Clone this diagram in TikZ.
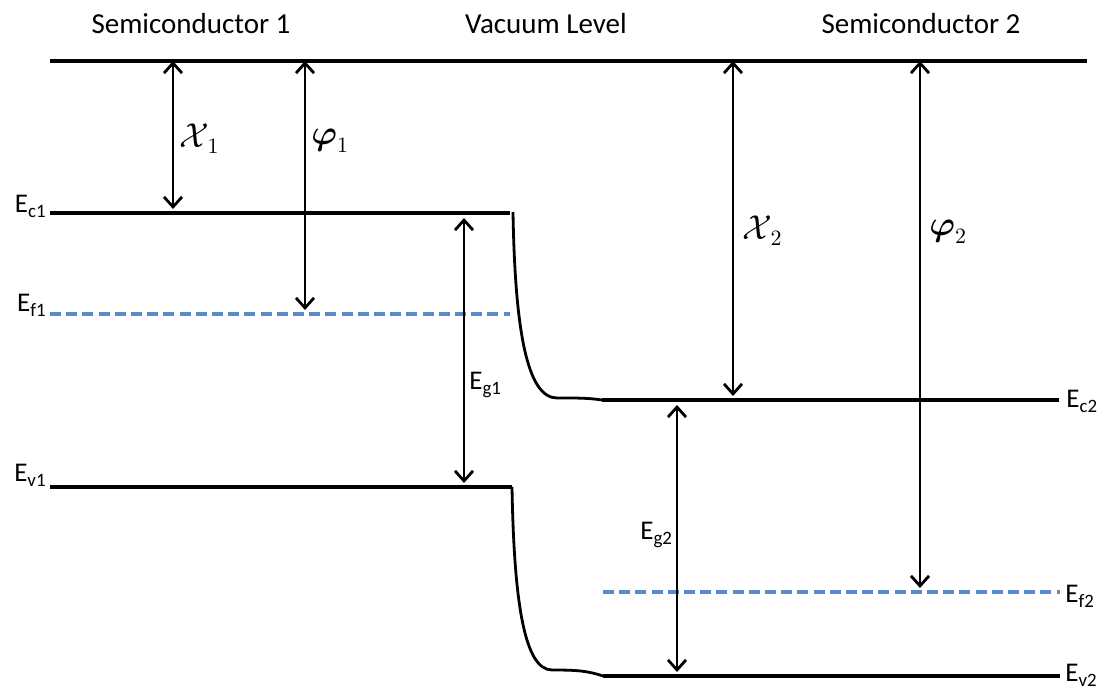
\documentclass[tikz,border=0pt]{standalone}
\usepackage{amsmath, amssymb}
\usepackage{fontspec}
\setmainfont{Carlito}
\usetikzlibrary{arrows.meta}
\definecolor{fermiblue}{RGB}{88,138,204}

\begin{document}
\begin{tikzpicture}[x=0.5pt, y=-0.5pt,
                level/.style={black, line width=1.7pt},
                bandbend/.style={black, line width=1.4pt},
                fermi/.style={fermiblue, line width=1.7pt, dash pattern=on 5.5pt off 2.6pt},
                gap/.style={black, line width=1.4pt, {Straight Barb[length=5pt, width=9pt, line width=1.4pt]}-{Straight Barb[length=5pt, width=9pt, line width=1.4pt]}},
                title/.style={font=\fontsize{14.5}{17}\selectfont, inner sep=0pt},
                tag/.style={font=\fontsize{13.5}{16}\selectfont, inner sep=0pt},
                sym/.style={font=\fontsize{16}{19}\selectfont, inner sep=0pt}]
                \useasboundingbox (0,0) rectangle (1110,689);
                \coordinate (V1) at (50,61);
                \coordinate (V2) at (1087,61);
                \coordinate (C1a) at (50,213);
                \coordinate (C1b) at (510,213);
                \coordinate (F1a) at (50,314);
                \coordinate (F1b) at (510,314);
                \coordinate (E1a) at (50,487);
                \coordinate (E1b) at (512,487);
                \coordinate (C2a) at (602,400);
                \coordinate (C2b) at (1059,400);
                \coordinate (F2a) at (603,592);
                \coordinate (F2b) at (1060,592);
                \coordinate (E2a) at (603,676);
                \coordinate (E2b) at (1060,676);
                \coordinate (X1t) at (173,61);
                \coordinate (X1b) at (173,209);
                \coordinate (P1t) at (305,61);
                \coordinate (P1b) at (305,310);
                \coordinate (G1t) at (464,218);
                \coordinate (G1b) at (464,483);
                \coordinate (X2t) at (733,61);
                \coordinate (X2b) at (733,396);
                \coordinate (P2t) at (920,61);
                \coordinate (P2b) at (920,588);
                \coordinate (G2t) at (677,405);
                \coordinate (G2b) at (677,672);
                \draw[level] (V1) -- (V2);
                \draw[level] (C1a) -- (C1b);
                \draw[level] (E1a) -- (E1b);
                \draw[level] (C2a) -- (C2b);
                \draw[level] (E2a) -- (E2b);
                \draw[fermi] (F1a) -- (F1b);
                \draw[fermi] (F2a) -- (F2b);
                \draw[bandbend] (513,212) .. controls (515,330) and (527,398) .. (557,398)
                                      .. controls (580,398) and (588,398) .. (C2a);
                \draw[bandbend] (E1b) .. controls (514,600) and (524,670) .. (552,670)
                                  .. controls (578,670) and (588,671) .. (E2a);
                \draw[gap] (X1t) -- (X1b);
                \draw[gap] (P1t) -- (P1b);
                \draw[gap] (G1t) -- (G1b);
                \draw[gap] (X2t) -- (X2b);
                \draw[gap] (P2t) -- (P2b);
                \draw[gap] (G2t) -- (G2b);
                \node[title] (S1) at (191,24) {Semiconductor 1};
                \node[title] (VL) at (546,24) {Vacuum Level};
                \node[title] (S2) at (921,24) {Semiconductor 2};
                \node[tag, anchor=base east] (Ec1) at (47,213) {E\textsubscript{c1}};
                \node[tag, anchor=base east] (Ef1) at (47,312) {E\textsubscript{f1}};
                \node[tag, anchor=base east] (Ev1) at (47,482) {E\textsubscript{v1}};
                \node[tag, anchor=base west] (Ec2) at (1066,408) {E\textsubscript{c2}};
                \node[tag, anchor=base west] (Ef2) at (1065,603) {E\textsubscript{f2}};
                \node[tag, anchor=base west] (Ev2) at (1065,682) {E\textsubscript{v2}};
                \node[tag, anchor=base west] (Eg1) at (469,390) {E\textsubscript{g1}};
                \node[tag, anchor=base west] (Eg2) at (640,540) {E\textsubscript{g2}};
                \node[sym, anchor=base west] (Chi1) at (179,148) {$\mathcal{X}_{\,1}$};
                \node[sym, anchor=base west] (Phi1) at (311,145) {$\boldsymbol{\varphi}_1$};
                \node[sym, anchor=base west] (Chi2) at (742,240) {$\mathcal{X}_{\,2}$};
                \node[sym, anchor=base west] (Phi2) at (929,236) {$\boldsymbol{\varphi}_2$};
            \end{tikzpicture}
\end{document}
